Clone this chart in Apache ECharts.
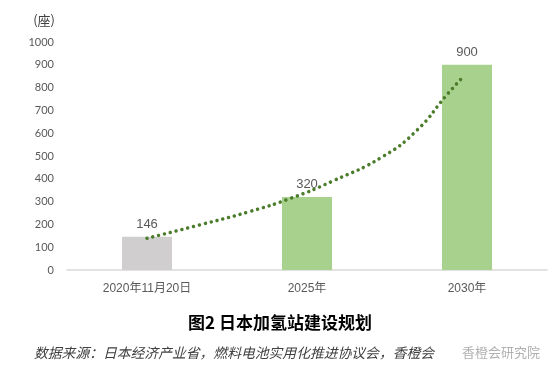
<!DOCTYPE html>
<html>
<head>
<meta charset="utf-8">
<script src="https://cdn.jsdelivr.net/npm/echarts@6/dist/echarts.min.js"></script>
<style>
  html, body { margin: 0; padding: 0; background: #fff; }
  #chart { width: 560px; height: 377px; }
</style>
</head>
<body>
<div id="chart"></div>
<script>
// 数据
const categories = ['2020年11月20日', '2025年', '2030年'];
const stations = [146, 320, 900];
const barColors = ['#d0cece', '#a9d18e', '#a9d18e'];
const yTicks = [0, 1000, 100]; // min, max, interval
// 趋势线（从图上读取的点，x 为类目位置 0~3）
const trendX = [0.5, 0.83, 1.14, 1.4, 1.66, 1.975, 2.19, 2.37, 2.47];
const trendY = [139, 198, 256, 315, 390, 498, 615, 765, 843];

const myChart = echarts.init(document.getElementById('chart'));
const textFont = "'Liberation Sans', 'Noto Sans CJK SC', sans-serif";

myChart.setOption({
  animation: false,
  title: {
    text: '图2 日本加氢站建设规划',
    left: 'center',
    top: 309,
    textStyle: {
      fontSize: 17,
      fontWeight: 'bold',
      color: '#000',
      fontFamily: "'Noto Sans CJK SC', sans-serif"
    }
  },
  graphic: [
    {
      type: 'text',
      left: 34,
      top: 346,
      style: {
        text: '数据来源：日本经济产业省，燃料电池实用化推进协议会，香橙会',
        fontSize: 13.8,
        fontStyle: 'italic',
        fill: '#404040',
        fontFamily: "'Noto Sans CJK SC', sans-serif"
      }
    },
    {
      type: 'text',
      left: 462,
      top: 346,
      style: {
        text: '香橙会研究院',
        fontSize: 13,
        fill: '#b0b0b0',
        fontFamily: "'Noto Sans CJK SC', sans-serif"
      }
    }
  ],
  grid: {
    left: 67,
    right: 13,
    top: 42,
    bottom: 107
  },
  xAxis: [
    {
      type: 'category',
      data: categories,
      axisLine: { lineStyle: { color: '#d9d9d9', width: 1.5 } },
      axisTick: { show: false },
      axisLabel: {
        color: '#595959',
        fontSize: 12,
        margin: 13,
        fontFamily: textFont
      }
    },
    {
      type: 'value',
      min: 0,
      max: 3,
      show: false
    }
  ],
  yAxis: {
    type: 'value',
    min: yTicks[0],
    max: yTicks[1],
    interval: yTicks[2],
    name: '(座)',
    nameLocation: 'end',
    nameGap: 15,
    nameTextStyle: {
      color: '#404040',
      fontSize: 13,
      align: 'right',
      padding: [0, 12, 0, 0],
      fontFamily: "'Noto Sans CJK SC', serif"
    },
    axisLine: { show: false },
    axisTick: { show: false },
    splitLine: { show: false },
    axisLabel: {
      color: '#595959',
      fontSize: 11,
      margin: 13,
      formatter: (v) => String(v),
      fontFamily: "Lato, 'Liberation Sans', sans-serif"
    }
  },
  series: [
    {
      name: '加氢站',
      type: 'bar',
      barWidth: 50,
      data: stations.map((v, i) => ({ value: v, itemStyle: { color: barColors[i] } })),
      label: {
        show: true,
        position: 'top',
        distance: 6,
        color: '#595959',
        fontSize: 13,
        fontFamily: textFont
      },
      z: 2
    },
    {
      name: '趋势线',
      type: 'line',
      xAxisIndex: 1,
      smooth: 0.5,
      symbol: 'none',
      data: trendX.map((x, i) => [x, trendY[i]]),
      lineStyle: {
        color: '#4a7c2a',
        width: 3.5,
        type: [0.01, 6],
        cap: 'round'
      },
      z: 3
    }
  ]
});
</script>
</body>
</html>
